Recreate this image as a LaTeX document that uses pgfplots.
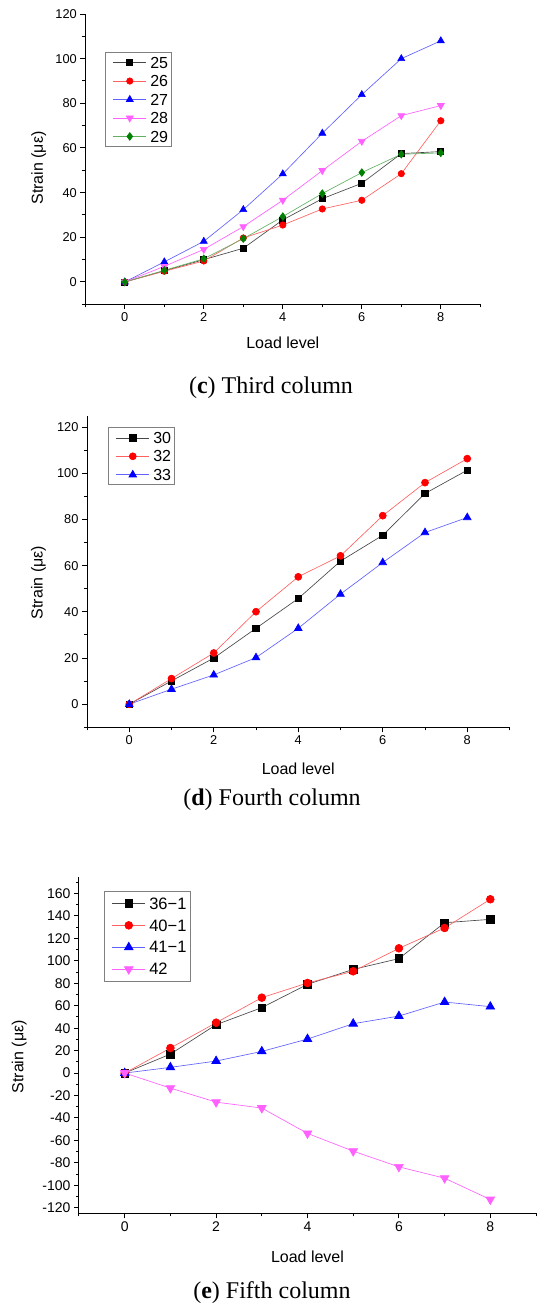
\documentclass[border=0pt]{standalone}
\usepackage{fontspec}
\setmainfont{Liberation Sans}
\newfontfamily\capfont{Liberation Serif}
\usepackage{pgfplots}
\pgfplotsset{compat=1.18}
\definecolor{ogreen}{RGB}{0,128,0}
\definecolor{ored}{RGB}{255,0,0}
\definecolor{oblue}{RGB}{0,0,255}
\definecolor{omag}{RGB}{255,0,255}
\definecolor{oblack}{RGB}{0,0,0}
\pgfplotsset{
 ser/.style={color=#1!62!white, mark options={draw=#1, fill=#1, solid}},
 serk/.style={color=black!72!white, mark options={draw=black, fill=black, solid}},
 origin/.style={
  scale only axis,
  axis x line*=bottom, axis y line*=left,
  axis line style={line width=1pt, black},
  tick align=outside, tick style={line width=1pt, black},
  major tick length=5pt, minor tick length=3pt,
  xmin=-1, xmax=9, xtick={0,2,...,8}, minor xtick={-1,1,...,9},
  /pgf/number format/assume math mode=true,
  legend cell align=left,
  every axis plot/.append style={line width=0.65pt},
  legend image code/.code={\path (0pt,0pt); \draw[mark repeat=2,mark phase=2,##1] plot coordinates {(5.5pt,0pt) (22pt,0pt) (38.5pt,0pt)};},
  legend style={draw=gray, line width=0.9pt, fill=white, inner xsep=2pt, inner ysep=3pt,
     nodes={inner sep=1.5pt, text depth=0pt, font=\fontsize{16}{18}\selectfont}, column sep=2.2pt, row sep=4.3pt},
  label style={font=\fontsize{16}{18}\selectfont},
  ylabel={Strain (με)}, xlabel={Load level},
 },
}
\begin{document}
\begin{tikzpicture}
\useasboundingbox (0pt,0pt) rectangle (550pt,-1315pt);
% ---------------- (c)
\begin{axis}[origin, at={(85.3pt,-304.3pt)}, anchor=south west, width=395pt, height=290.3pt,
  ymin=-10, ymax=120, ytick={0,20,...,120}, minor ytick={-10,10,...,110},
  tick label style={font=\fontsize{12.8}{14}\selectfont},
  xlabel style={at={(axis description cs:0.5,-0.1333)}, anchor=center},
  ylabel style={at={(axis description cs:-0.118,0.4695)}, anchor=center},
  legend style={at={(axis description cs:0.0499,0.869)}, anchor=north west}]
\addplot[serk, mark=square*, mark size=3pt] coordinates {(0,0)(1,5)(2,10)(3,15.1)(4,27.8)(5,37.3)(6,44.2)(7,57.5)(8,58.4)};
\addlegendentry{25}
\addplot[ser=ored, mark=*, mark size=3.2pt] coordinates {(0,0)(1,4.8)(2,9.4)(3,19.7)(4,25.5)(5,32.7)(6,36.6)(7,48.5)(8,72.2)};
\addlegendentry{26}
\addplot[ser=oblue, mark=triangle*, mark size=4pt] coordinates {(0,0)(1,9)(2,18.2)(3,32.4)(4,48.4)(5,66.6)(6,83.9)(7,100)(8,108)};
\addlegendentry{27}
\addplot[ser=omag, mark=triangle*, mark size=4pt, mark options={rotate=180}] coordinates {(0,0)(1,7)(2,14.6)(3,24.8)(4,36.6)(5,49.9)(6,63)(7,74.5)(8,79)};
\addlegendentry{28}
\addplot[ser=ogreen, mark=diamond*, mark size=3.8pt] coordinates {(0,0)(1,5.2)(2,10.4)(3,19.4)(4,29.3)(5,39.6)(6,49)(7,57.2)(8,57.8)};
\addlegendentry{29}
\end{axis}
\node[font=\capfont\fontsize{24}{28}\selectfont] at (271pt,-388pt) {(\textbf{c}) Third column};
% ---------------- (d)
\begin{axis}[origin, at={(87pt,-727.3pt)}, anchor=south west, width=422.5pt, height=311.6pt,
  ymin=-10, ymax=125, ytick={0,20,...,120}, minor ytick={-10,10,...,110},
  tick label style={font=\fontsize{12.8}{14}\selectfont},
  xlabel style={at={(axis description cs:0.5,-0.134)}, anchor=center},
  ylabel style={at={(axis description cs:-0.1146,0.4647)}, anchor=center},
  legend style={at={(axis description cs:0.0497,0.9628)}, anchor=north west}]
\addplot[serk, mark=square*, mark size=3.2pt] coordinates {(0,0)(1,10.1)(2,20)(3,32.9)(4,45.8)(5,62)(6,73.2)(7,91.3)(8,101.4)};
\addlegendentry{30}
\addplot[ser=ored, mark=*, mark size=3.5pt] coordinates {(0,0)(1,11.1)(2,22.2)(3,40.1)(4,55.2)(5,64.3)(6,81.7)(7,96)(8,106.4)};
\addlegendentry{32}
\addplot[ser=oblue, mark=triangle*, mark size=4.4pt] coordinates {(0,0)(1,6.5)(2,12.7)(3,20.2)(4,32.9)(5,47.7)(6,61.4)(7,74.4)(8,80.9)};
\addlegendentry{33}
\end{axis}
\node[font=\capfont\fontsize{24}{28}\selectfont] at (272pt,-800pt) {(\textbf{d}) Fourth column};
% ---------------- (e)
\begin{axis}[origin, at={(79pt,-1213.3pt)}, anchor=south west, width=457pt, height=336.6pt,
  ymin=-125, ymax=175, ytick={-120,-100,...,160}, minor ytick={-110,-90,...,170},
  yticklabels={-120,-100,-80,-60,-40,-20,0,20,40,60,80,100,120,140,160},
  tick label style={font=\fontsize{14}{16}\selectfont},
  xlabel style={at={(axis description cs:0.5,-0.13)}, anchor=center},
  ylabel style={at={(axis description cs:-0.1306,0.465)}, anchor=center},
  legend style={at={(axis description cs:0.0547,0.9575)}, anchor=north west, row sep=7.5pt, inner ysep=4.6pt,
     nodes={font=\fontsize{16.5}{18}\selectfont}}]
\addplot[serk, mark=square*, mark size=3.8pt] coordinates {(0,0)(1,16.9)(2,43.1)(3,58.3)(4,79.1)(5,92.4)(6,102)(7,134)(8,137)};
\addlegendentry{36−1}
\addplot[ser=ored, mark=*, mark size=3.9pt] coordinates {(0,0)(1,22.3)(2,44.9)(3,67.2)(4,80.3)(5,90.7)(6,111.2)(7,129.3)(8,154.9)};
\addlegendentry{40−1}
\addplot[ser=oblue, mark=triangle*, mark size=5pt] coordinates {(0,0)(1,5.1)(2,10.7)(3,19.3)(4,30.3)(5,44)(6,50.8)(7,63.3)(8,59.2)};
\addlegendentry{41−1}
\addplot[ser=omag, mark=triangle*, mark size=5pt, mark options={rotate=180}] coordinates {(0,0)(1,-13.4)(2,-25.9)(3,-31.2)(4,-53.8)(5,-69.6)(6,-83.6)(7,-93.7)(8,-112.7)};
\addlegendentry{42}
\end{axis}
\node[font=\capfont\fontsize{24}{28}\selectfont] at (272pt,-1293pt) {(\textbf{e}) Fifth column};
\end{tikzpicture}
\end{document}
